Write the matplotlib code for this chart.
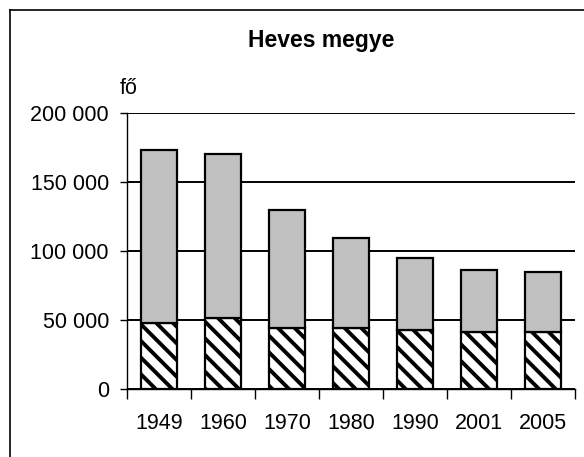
import matplotlib
matplotlib.use("Agg")
from matplotlib import pyplot as plt
from matplotlib.lines import Line2D
from matplotlib.ticker import FuncFormatter

years = ["1949", "1960", "1970", "1980", "1990", "2001", "2005"]
hatched_part = [47500, 51300, 44400, 44400, 42800, 41300, 41300]
totals = [173200, 170300, 129700, 109200, 94700, 86200, 85000]
grey_part = [t - h for t, h in zip(totals, hatched_part)]

plt.rcParams['font.family'] = ['Liberation Sans', 'DejaVu Sans']
plt.rcParams['hatch.linewidth'] = 2.8
plt.rcParams['hatch.color'] = 'black'

fig = plt.figure(figsize=(5.84, 4.57), dpi=100)
ax = fig.add_axes([127 / 584, 68 / 457, 448 / 584, 276 / 457])

x = range(len(years))
ax.bar(x, hatched_part, width=0.5625, color='white', edgecolor='black',
       linewidth=1.6, hatch='\\\\', zorder=3)
ax.bar(x, grey_part, bottom=hatched_part, width=0.5625, color='#c0c0c0',
       edgecolor='black', linewidth=1.6, zorder=3)

ax.set_xlim(-0.5, len(years) - 0.5)
ax.set_ylim(0, 200000)
ax.set_yticks([0, 50000, 100000, 150000, 200000])
ax.yaxis.set_major_formatter(FuncFormatter(lambda v, p: f"{int(v):,}".replace(",", " ")))
ax.set_xticks([i - 0.5 for i in range(len(years) + 1)], minor=False)
ax.set_xticklabels([])
ax.set_xticks(list(x), minor=True)
ax.set_xticklabels(years, minor=True)

ax.tick_params(axis='x', which='major', length=7, width=1, direction='out')
ax.tick_params(axis='x', which='minor', length=0, labelsize=15.5, pad=17)
ax.tick_params(axis='y', length=5, width=1, labelsize=15.5, pad=8)

ax.grid(axis='y', color='black', linewidth=1.4, zorder=0)
ax.spines['top'].set_visible(False)
ax.spines['right'].set_visible(False)
ax.spines['left'].set_linewidth(1)
ax.spines['bottom'].set_linewidth(1)

fig.text(321 / 584, 1 - 41 / 457, "Heves megye", ha='center', va='center',
         fontsize=16.5, fontweight='bold')
fig.text(120 / 584, 1 - 94 / 457, "fő", ha='left', va='baseline', fontsize=15.5)

# chart frame (left and top edges visible)
fig.add_artist(Line2D([10 / 584, 10 / 584], [0, 1 - 10 / 457], color='black', linewidth=1.2))
fig.add_artist(Line2D([10 / 584, 1], [1 - 10 / 457, 1 - 10 / 457], color='black', linewidth=1.2))

fig.savefig("out.png", dpi=100)
